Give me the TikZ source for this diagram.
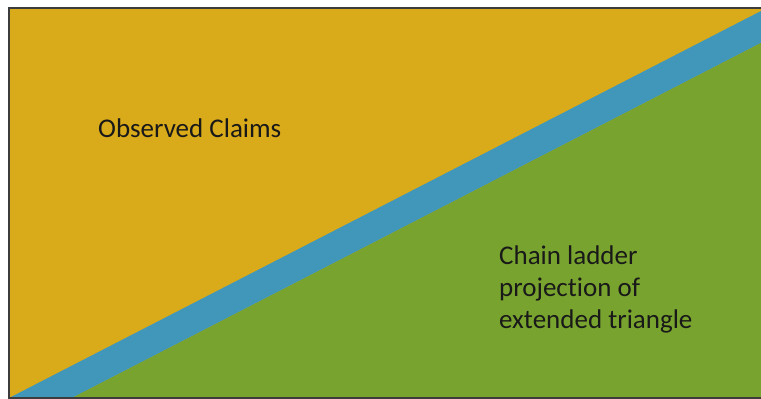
\documentclass[tikz,border=0pt]{standalone}
\usepackage{fontspec}
\setmainfont[Ligatures={NoCommon}]{Carlito}
\definecolor{claimyellow}{RGB}{217,170,26}
\definecolor{bandblue}{RGB}{64,151,186}
\definecolor{ladgreen}{RGB}{120,163,46}
\definecolor{framegray}{RGB}{60,60,60}
\begin{document}
\begin{tikzpicture}[x=1pt,y=-1pt,
  label text/.style={font=\fontsize{27}{31.8}\selectfont, text=black!90, align=left, inner sep=0pt, anchor=base west}]
\useasboundingbox (0,0) rectangle (761,399);
% observed region (upper-left triangle)
\fill[claimyellow] (9,8) rectangle (761,398);
% separating band
\fill[bandblue] (9,398) -- (761,11) -- (761,43) -- (72,398) -- cycle;
% projected region (lower-right triangle)
\fill[ladgreen] (72,398) -- (761,43) -- (761,398) -- cycle;
% frame edges
\draw[framegray, line width=1.2pt] (761,8) -- (9,8) -- (9,398) -- (761,398);
% the base anchor of a multi-line node sits on its last line
\node[label text] (obs) at (98,137) {Observed Claims};
\node[label text] (proj) at (499,328.5) {Chain ladder\\projection of\\extended triangle};
\end{tikzpicture}
\end{document}
